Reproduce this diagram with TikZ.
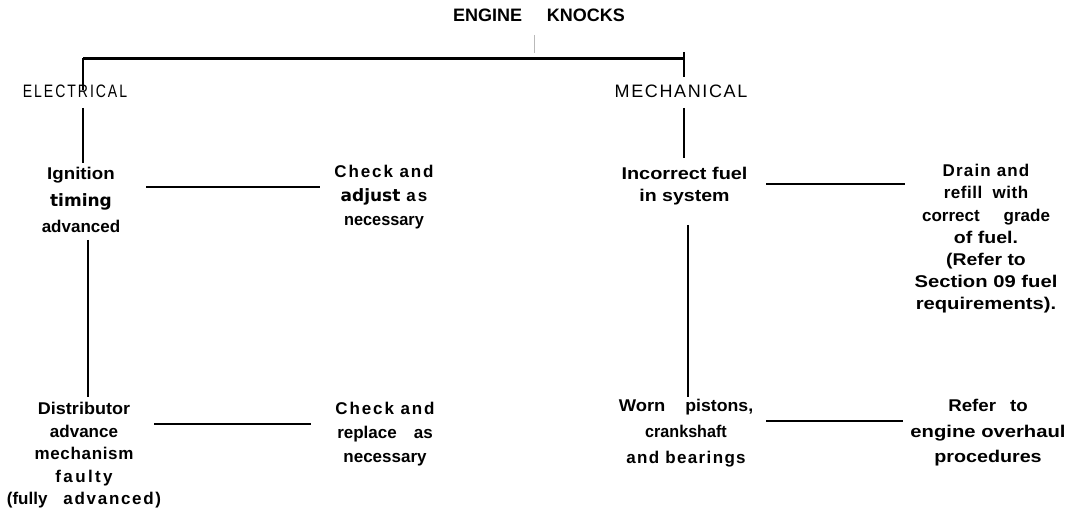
\documentclass[tikz,border=0pt]{standalone}
\usepackage{graphicx}
\usepackage{fontspec}
\setmainfont{Liberation Sans}
\newfontfamily\dvs{DejaVu Sans}
\newcommand\ls[2]{{\addfontfeatures{LetterSpace=#1}#2}}
\newcommand\sx[2]{\scalebox{#1}[1]{#2}}
\begin{document}
\begin{tikzpicture}[x=1pt,y=-1pt,
  lab/.style={align=center, inner sep=0pt},
  fs/.style={font=\fontsize{17}{#1}\selectfont\bfseries},
  cat/.style={font=\fontsize{18}{20}\selectfont, inner sep=0pt, anchor=base},
  conn/.style={line width=2.6pt},
  faint/.style={line width=0.7pt, gray!55}]
\useasboundingbox (0,0) rectangle (1075,529);
% title
\node[inner sep=0pt, anchor=base, font=\fontsize{18}{20}\selectfont\bfseries] (engine) at (539,22) {ENGINE\hspace{25pt}KNOCKS};
\coordinate (t1) at (534,35);
\coordinate (t2) at (534,53);
\draw[faint] (t1) -- (t2);
% bar
\coordinate (bl) at (83,58.5);
\coordinate (br) at (685,58.5);
\draw[line width=2.8pt] (bl) -- (br);
% categories
\node[cat] (elec) at (75,98) {\sx{0.78}{\ls{14}{ELECTRICAL}}};
\node[cat] (mech) at (681,98) {\ls{9}{MECHANICAL}};
\coordinate (e1) at (83,90);
\coordinate (m0) at (684,52);
\coordinate (m1) at (684,77);
\draw[conn] (bl) -- (e1);
\draw[line width=2pt] (m0) -- (m1);
% left column
\node[lab, fs=26.5] (ign) at (81,200.3) {\sx{1.1}{Ignition}\\{\dvs timing}\\advanced};
\node[lab, fs=24] (chk1) at (384,197.6) {\ls{11}{Check and}\\{\dvs adjust}\hspace{6pt}\ls{12}{as}\\\sx{0.96}{necessary}};
\node[lab, fs=22.5] (dist) at (84,455.6) {\sx{1.06}{Distributor}\\advance\\\ls{4}{mechanism}\\\ls{14}{faulty}\\(fully\hspace{16pt}\ls{10}{advanced)}};
\node[lab, fs=24] (chk2) at (385,434.6) {\ls{11}{Check and}\\replace\hspace{17pt}as\\necessary};
\coordinate (e2) at (83,108);
\coordinate (e3) at (83,163);
\draw[line width=1.3pt] (e2) -- (e3);
\coordinate (i1) at (88,240);
\coordinate (i2) at (88,397);
\draw[conn] (i1) -- (i2);
\coordinate (h1a) at (146,187);
\coordinate (h1b) at (320,187);
\draw[conn] (h1a) -- (h1b);
\coordinate (h2a) at (154,424);
\coordinate (h2b) at (311,424);
\draw[conn] (h2a) -- (h2b);
% right column
\node[lab, fs=22] (inc) at (684.5,186) {\sx{1.17}{Incorrect fuel}\\\sx{1.15}{in system}};
\node[lab, fs=22.2] (drain) at (986,239) {\ls{7}{Drain and}\\\ls{3}{refill\ \ with}\\correct\hspace{24pt}grade\\\sx{1.15}{of fuel.}\\\sx{1.14}{(Refer to}\\\sx{1.19}{Section 09 fuel}\\\sx{1.19}{requirements).}};
\node[lab, fs=26] (worn) at (686,433.6) {\sx{1.08}{Worn}\hspace{20pt}\sx{1.04}{pistons,}\\\sx{0.95}{crankshaft}\\\ls{8}{and bearings}};
\node[lab, fs=25.5] (refer) at (988,433) {\sx{1.1}{Refer}\hspace{14pt}\sx{1.1}{to}\\\sx{1.19}{engine overhaul}\\\sx{1.16}{procedures}};
\coordinate (m2) at (684,108);
\coordinate (m3) at (684,158);
\draw[conn] (m2) -- (m3);
\coordinate (n1) at (688,225);
\coordinate (n2) at (688,397);
\draw[conn] (n1) -- (n2);
\coordinate (h3a) at (766,184);
\coordinate (h3b) at (905,184);
\draw[conn] (h3a) -- (h3b);
\coordinate (h4a) at (766,421);
\coordinate (h4b) at (903,421);
\draw[conn] (h4a) -- (h4b);
\end{tikzpicture}
\end{document}
